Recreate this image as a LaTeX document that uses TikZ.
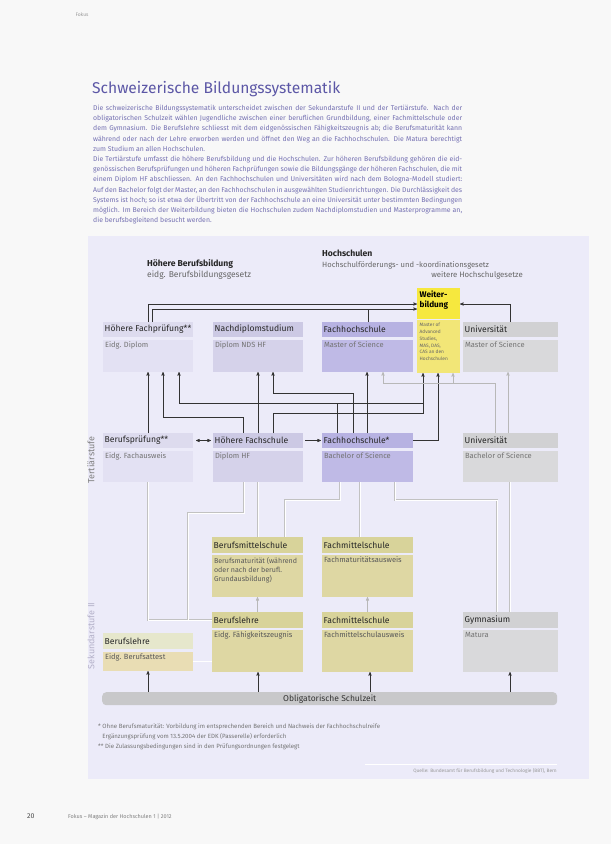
\documentclass[tikz,border=0pt]{standalone}
\usepackage{fontspec}
\setmainfont{Fira Sans}
\usetikzlibrary{arrows}
\definecolor{seite}{HTML}{F8F8F8}
\definecolor{panel}{HTML}{ECEBF9}
\definecolor{titel}{HTML}{5C57A6}
\definecolor{fliess}{HTML}{7470B2}
\definecolor{lilahell}{HTML}{DDDBEE}
\definecolor{lilahellB}{HTML}{E3E1F3}
\definecolor{lilamit}{HTML}{CCC9E4}
\definecolor{lilamitB}{HTML}{D5D2EA}
\definecolor{liladunkel}{HTML}{B7B2E2}
\definecolor{liladunkelB}{HTML}{BFBAE6}
\definecolor{grauK}{HTML}{D1D1D3}
\definecolor{grauB}{HTML}{D9D9DB}
\definecolor{gelb}{HTML}{F6E83E}
\definecolor{gelbB}{HTML}{F2E677}
\definecolor{olivK}{HTML}{D8D39A}
\definecolor{olivB}{HTML}{DED7A3}
\definecolor{blassK}{HTML}{E6E7CC}
\definecolor{blassB}{HTML}{E9DDB4}
\definecolor{balken}{HTML}{C8C8CA}

\begin{document}
\begin{tikzpicture}[x=1pt, y=-1pt,
  kopf/.style={anchor=north west, minimum height=15pt, inner sep=0pt, outer sep=0pt},
  rumpf/.style={anchor=north west, inner sep=0pt, outer sep=0pt},
  ktxt/.style={anchor=west, inner sep=1.5pt, font=\fontsize{8.6}{9}\selectfont, text=black!85},
  rtxt/.style={anchor=north west, inner sep=1.8pt, font=\fontsize{7.5}{8.6}\selectfont, text=black!55, align=left},
  pfeil/.style={draw=black!80, line width=0.45pt, ->, >=stealth'},
  grau/.style={draw=black!28, line width=0.45pt, ->, >=stealth'},
  rohr/.style={draw=black!24, double=white, double distance=0.9pt, line width=0.45pt},
]
\useasboundingbox (0,0) rectangle (611,844);
\fill[seite] (0,0) rectangle (611,844);
\fill[panel] (88,236) rectangle (589,779);

% Kopf, Titel, Lauftext
\node[anchor=west, font=\fontsize{5}{6}\selectfont, text=black!40] at (72,15) {Fokus};
\node[anchor=base west, inner sep=0pt, font=\fontsize{15.6}{18}\selectfont, text=titel] at (92,93) {Schweizerische Bildungssystematik};
\node[anchor=north west, inner sep=0pt, text width=369pt, align=justify, text=fliess,
  font=\fontsize{6.9}{10.2}\selectfont] at (93,105) {%
Die schweizerische Bildungssystematik unterscheidet zwischen der Sekundarstufe II und der Tertiärstufe. Nach der obligatorischen Schulzeit wählen Jugendliche zwischen einer beruflichen Grundbildung, einer Fachmittelschule oder dem Gymnasium. Die Berufslehre schliesst mit dem eidgenössischen Fähigkeitszeugnis ab; die Berufsmaturität kann während oder nach der Lehre erworben werden und öffnet den Weg an die Fachhochschulen. Die Matura berechtigt zum Studium an allen Hochschulen.\par
Die Tertiärstufe umfasst die höhere Berufsbildung und die Hochschulen. Zur höheren Berufsbildung gehören die eidgenössischen Berufsprüfungen und höheren Fachprüfungen sowie die Bildungsgänge der höheren Fachschulen, die mit einem Diplom HF abschliessen. An den Fachhochschulen und Universitäten wird nach dem Bologna-Modell studiert: Auf den Bachelor folgt der Master, an den Fachhochschulen in ausgewählten Studienrichtungen. Die Durchlässigkeit des Systems ist hoch; so ist etwa der Übertritt von der Fachhochschule an eine Universität unter bestimmten Bedingungen möglich. Im Bereich der Weiterbildung bieten die Hochschulen zudem Nachdiplomstudien und Masterprogramme an, die berufsbegleitend besucht werden.};

% Ueberschriften
\node[anchor=base west, inner sep=0pt, font=\bfseries\fontsize{8.6}{9}\selectfont, text=black!85] (hbb) at (147,266) {Höhere Berufsbildung};
\node[anchor=base west, inner sep=0pt, font=\fontsize{8.5}{9}\selectfont, text=black!60] at (147,277) {eidg. Berufsbildungsgesetz};
\node[anchor=base west, inner sep=0pt, font=\bfseries\fontsize{8.6}{9}\selectfont, text=black!85] (hs) at (322,256) {Hochschulen};
\node[anchor=base west, inner sep=0pt, font=\fontsize{7.6}{9}\selectfont, text=black!60] at (322,267) {Hochschulförderungs- und -koordinationsgesetz};
\node[anchor=base east, inner sep=0pt, font=\fontsize{7.8}{9}\selectfont, text=black!60] at (523,277) {weitere Hochschulgesetze};

% Stufen
\node[rotate=90, font=\fontsize{9}{10}\selectfont, text=black!50] at (91,460) {Tertiärstufe};
\node[rotate=90, font=\fontsize{9}{10}\selectfont, text=black!12!lilamit] at (91,636) {Sekundarstufe II};

% Tertiaerstufe oben
\node[kopf, minimum width=90pt, fill=lilahell, label={[ktxt]west:Höhere Fachprüfung**}] (hfp) at (103,322) {};
\node[rumpf, minimum width=90pt, minimum height=32pt, fill=lilahellB, label={[rtxt]north west:Eidg. Diplom}] (hfp2) at (103,340) {};
\node[kopf, minimum width=90pt, fill=lilamit, label={[ktxt]west:Nachdiplomstudium}] (nds) at (213,322) {};
\node[rumpf, minimum width=90pt, minimum height=32pt, fill=lilamitB, label={[rtxt]north west:Diplom NDS HF}] (nds2) at (213,340) {};
\node[kopf, minimum width=91pt, fill=liladunkel, label={[ktxt]west:Fachhochschule}] (fhm) at (322,322) {};
\node[rumpf, minimum width=91pt, minimum height=32pt, fill=liladunkelB, label={[rtxt]north west:Master of Science}] (fhm2) at (322,340) {};
\node[kopf, minimum width=95pt, fill=grauK, label={[ktxt]west:Universität}] (um) at (463,322) {};
\node[rumpf, minimum width=95pt, minimum height=32pt, fill=grauB, label={[rtxt]north west:Master of Science}] (um2) at (463,340) {};
\node[kopf, minimum width=43pt, minimum height=31pt, fill=gelb,
  label={[anchor=north west, inner sep=2.5pt, align=left, font=\bfseries\fontsize{8.2}{10}\selectfont]north west:Weiter-\\bildung}] (wb) at (417,288) {};
\node[rumpf, minimum width=43pt, minimum height=53pt, fill=gelbB,
  label={[anchor=north west, inner sep=2.5pt, align=left, text=black!60, font=\fontsize{4.8}{6.9}\selectfont]north west:Master of\\Advanced\\Studies,\\MAS, DAS,\\CAS an den\\Hochschulen}] (wb2) at (417,320) {};

% Tertiaerstufe Mitte
\node[kopf, minimum width=90pt, fill=lilahell, label={[ktxt]west:Berufsprüfung**}] (bp) at (103,433) {};
\node[rumpf, minimum width=90pt, minimum height=31pt, fill=lilahellB, label={[rtxt]north west:Eidg. Fachausweis}] (bp2) at (103,451) {};
\node[kopf, minimum width=90pt, fill=lilamit, label={[ktxt]west:Höhere Fachschule}] (hf) at (213,433) {};
\node[rumpf, minimum width=90pt, minimum height=31pt, fill=lilamitB, label={[rtxt]north west:Diplom HF}] (hf2) at (213,451) {};
\node[kopf, minimum width=91pt, fill=liladunkel, label={[ktxt]west:Fachhochschule*}] (fh) at (322,433) {};
\node[rumpf, minimum width=91pt, minimum height=31pt, fill=liladunkelB, label={[rtxt]north west:Bachelor of Science}] (fh2) at (322,451) {};
\node[kopf, minimum width=95pt, fill=grauK, label={[ktxt]west:Universität}] (ub) at (463,433) {};
\node[rumpf, minimum width=95pt, minimum height=31pt, fill=grauB, label={[rtxt]north west:Bachelor of Science}] (ub2) at (463,451) {};

% Sekundarstufe II
\node[kopf, minimum width=91pt, minimum height=16pt, fill=olivK, label={[ktxt]west:Berufsmittelschule}] (bms) at (212,537) {};
\node[rumpf, minimum width=91pt, minimum height=42pt, fill=olivB, label={[rtxt, text=black!65, font=\fontsize{7.1}{9}\selectfont]north west:{Berufsmaturität (während\\oder nach der berufl.\\Grundausbildung)}}] (bms2) at (212,555) {};
\node[kopf, minimum width=91pt, minimum height=16pt, fill=olivK, label={[ktxt]west:Fachmittelschule}] (fmo) at (322,537) {};
\node[rumpf, minimum width=91pt, minimum height=42pt, fill=olivB, label={[rtxt, text=black!65]north west:Fachmaturitätsausweis}] (fmo2) at (322,555) {};
\node[kopf, minimum width=91pt, minimum height=16pt, fill=olivK, label={[ktxt]west:Berufslehre}] (bl) at (212,612) {};
\node[rumpf, minimum width=91pt, minimum height=42pt, fill=olivB, label={[rtxt, text=black!65]north west:Eidg. Fähigkeitszeugnis}] (bl2) at (212,630) {};
\node[kopf, minimum width=91pt, minimum height=16pt, fill=olivK, label={[ktxt]west:Fachmittelschule}] (fms) at (322,612) {};
\node[rumpf, minimum width=91pt, minimum height=42pt, fill=olivB, label={[rtxt, text=black!65]north west:Fachmittelschulausweis}] (fms2) at (322,630) {};
\node[kopf, minimum width=95pt, minimum height=16pt, fill=grauK, label={[ktxt]west:Gymnasium}] (gym) at (463,612) {};
\node[rumpf, minimum width=95pt, minimum height=42pt, fill=grauB, label={[rtxt]north west:Matura}] (gym2) at (463,630) {};
\node[kopf, minimum width=90pt, minimum height=16pt, fill=blassK, label={[ktxt]west:Berufslehre}] (bla) at (103,633) {};
\node[rumpf, minimum width=90pt, minimum height=19pt, fill=blassB, label={[rtxt, text=black!65]north west:Eidg. Berufsattest}] (bla2) at (103,652) {};

\node[anchor=north west, minimum width=455pt, minimum height=13pt, inner sep=0pt, fill=balken, rounded corners=4pt,
  font=\fontsize{8.5}{9}\selectfont, text=black!80] (osz) at (102,692) {Obligatorische Schulzeit};

% Weiterbildung
\draw[pfeil] (hfp.north -| 148,0) |- (wb.west |- 0,304);
\draw[pfeil] (hfp.north -| 152,0) |- (wb.west |- 0,309);
\draw[draw=black!80, line width=0.45pt] (fhm.north -| 368,0) -- (368,309);
\draw[pfeil] (um.north -| 510,0) |- (wb.east |- 0,304);

% Tertiaer Mitte nach oben
\draw[pfeil] (bp.north -| 148,0) -- (hfp2.south -| 148,0);
\draw[pfeil] (hf.north -| 243,0) |- (163,417) -- (hfp2.south -| 163,0);
\draw[pfeil] (hf.north -| 258,0) -- (nds2.south -| 258,0);
\draw[pfeil] (hf.north -| 273,0) |- (423,413) -- (wb2.south -| 423,0);
\draw[pfeil] (fh.north -| 337,0) |- (179,403) -- (hfp2.south -| 179,0);
\draw[draw=black!80, line width=0.45pt] (fh.north -| 337,0) |- (423,403);
\draw[pfeil] (fh.north -| 353,0) |- (273,393) -- (nds2.south -| 273,0);
\draw[pfeil] (fh.north -| 367,0) -- (fhm2.south -| 367,0);
\draw[pfeil] (fh.east) -| (wb2.south -| 438,0);
\draw[grau] (ub.north -| 508,0) -- (um2.south -| 508,0);
\draw[grau] (ub.north -| 495,0) |- (383,383) -- (fhm2.south -| 383,0);
\draw[grau] (453,383) -- (wb2.south -| 453,0);
\draw[pfeil, <->, shorten <=3pt, shorten >=2pt] (bp.east) -- (hf.west);
\draw[pfeil, shorten <=2pt, shorten >=1pt] (hf.east) -- (fh.west);

% Sekundarstufe II nach oben
\draw[rohr] (bl.west) -| (bp2.south -| 148,0);
\draw[rohr] (bl.west -| 188,0) |- (244,513) -- (hf2.south -| 244,0);
\draw[rohr] (bms.north -| 258,0) -- (hf2.south -| 258,0);
\draw[rohr] (bms.north -| 285,0) |- (340,500) -- (fh2.south -| 340,0);
\draw[rohr] (fmo.north -| 360,0) -- (fh2.south -| 360,0);
\draw[rohr] (gym.north -| 497,0) |- (395,500) -- (fh2.south -| 395,0);
\draw[rohr] (gym.north -| 510,0) -- (ub2.south -| 510,0);
\draw[grau] (bl.north) -- (bms2.south);
\draw[grau] (fms.north) -- (fmo2.south);
\draw[rohr] (bla2.east) -- (bl2.west |- bla2.east);
\foreach \x/\ziel in {148/bla2, 258/bl2, 370/fms2, 510/gym2}
  \draw[pfeil] (osz.north -| \x,0) -- (\ziel.south -| \x,0);

% Fussnoten
\node[anchor=north west, inner sep=0pt, align=left, text=black!55, font=\fontsize{6.1}{10}\selectfont] at (98,724) {%
* Ohne Berufsmaturität: Vorbildung im entsprechenden Bereich und Nachweis der Fachhochschulreife\\
\phantom{* }Ergänzungsprüfung vom 13.5.2004 der EDK (Passerelle) erforderlich\\
** Die Zulassungsbedingungen sind in den Prüfungsordnungen festgelegt};
\draw[white, line width=1pt] (365,764) -- (557,764);
\node[anchor=base east, inner sep=0pt, text=black!40, font=\fontsize{4.8}{6}\selectfont] at (557,772) {Quelle: Bundesamt für Berufsbildung und Technologie (BBT), Bern};

% Fusszeile
\node[anchor=base west, inner sep=0pt, font=\fontsize{7}{8}\selectfont, text=black!70] at (27,818) {20};
\node[anchor=base west, inner sep=0pt, font=\fontsize{5.5}{7}\selectfont, text=black!50] at (68,818) {Fokus -- Magazin der Hochschulen 1 | 2012};
\end{tikzpicture}
\end{document}
